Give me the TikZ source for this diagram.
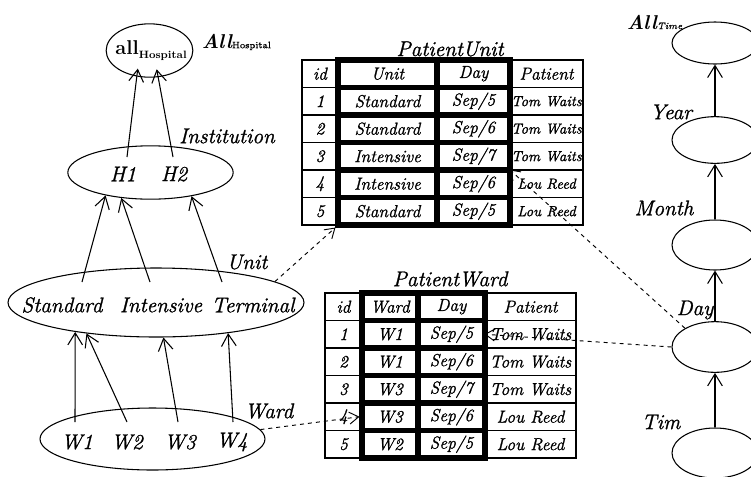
\documentclass[tikz,border=0pt]{standalone}
\usepackage{fontspec}
\setmainfont{Latin Modern Roman}[ItalicFeatures={FakeBold=1.2},UprightFeatures={FakeBold=1.2}]
\usetikzlibrary{arrows.meta,calc,shapes.geometric}

\begin{document}
\begin{tikzpicture}[x=0.75pt,y=-0.75pt,line width=0.8pt,
  level/.style={draw,ellipse,inner sep=0pt},
  member/.style={font=\fontsize{16}{16}\selectfont\itshape},
  dim label/.style={font=\fontsize{16}{16}\selectfont\itshape},
  top label/.style={font=\fontsize{15}{15}\selectfont\bfseries\itshape},
  rollup/.style={-{Straight Barb[length=9pt,width=11pt]}},
  link/.style={dashed,line width=0.7pt,-{Straight Barb[length=7pt,width=9pt]}},
  cell/.style={draw,line width=0.8pt,inner sep=0pt,font=\fontsize{13}{13}\selectfont\itshape,minimum height=20.6pt},
  key cell/.style={cell,line width=3.8pt}]
  \useasboundingbox (0,0) rectangle (751,476);
  \clip (0,0) rectangle (751,476);

  % hospital dimension
  \node[level,minimum width=65pt,minimum height=40pt] (allH) at (149.5,50.5) {};
  \node[font=\fontsize{15}{15}\selectfont\bfseries] (allH text) at (151,51) {all\raisebox{-3pt}{\fontsize{8}{8}\selectfont Hospital}};
  \node[top label,anchor=west] (allH label) at (197,42) {All{\fontsize{7}{7}\selectfont\mdseries\upshape Hospital}};

  \node[level,minimum width=124pt,minimum height=40pt] (inst) at (150.5,172.5) {};
  \node[member] (h1) at (123,174) {H1};
  \node[member] (h2) at (174,174) {H2};
  \node[dim label] (inst label) at (227,136) {Institution};

  \node[level,minimum width=222pt,minimum height=51.75pt] (unit) at (156,302.5) {};
  \node[member] (std) at (62,305) {Standard};
  \node[member] (int) at (161,305) {Intensive};
  \node[member] (ter) at (253,305) {Terminal};
  \node[dim label] (unit label) at (247,262) {Unit};

  \node[level,minimum width=168.75pt,minimum height=46.5pt] (ward) at (152.5,439) {};
  \node[member] (w1) at (77,442) {W1};
  \node[member] (w2) at (127,442) {W2};
  \node[member] (w3) at (180,442) {W3};
  \node[member] (w4) at (232,442) {W4};
  \node[dim label] (ward label) at (269,411) {Ward};

  \draw[rollup,shorten >=-6pt] ($(h1)+(4,-17)$) -- (allH.-116);
  \draw[rollup,shorten >=-6pt] ($(h2)+(-1,-17)$) -- (allH.-72);

  \draw[rollup] ($(std)+(20,-23)$) -- (inst.-153);
  \draw[rollup] ($(int)+(-11,-23)$) -- (inst.-139);
  \draw[rollup] ($(ter)+(-31,-23)$) -- (inst.-30);

  \draw[rollup] ($(w1)+(-2,-20)$) -- (unit.-160);
  \draw[rollup] ($(w2)+(0,-20)$) -- (unit.-156);
  \draw[rollup] ($(w3)+(-2,-20)$) -- (unit.-78);
  \draw[rollup] ($(w4)+(1,-20)$) -- (unit.-23);

  % time dimension
  \node[level,minimum width=64.5pt,minimum height=31.5pt] (allT) at (715,43) {};
  \node[level,minimum width=64.5pt,minimum height=35pt] (year) at (715,140) {};
  \node[level,minimum width=64.5pt,minimum height=37.5pt] (month) at (715,245) {};
  \node[level,minimum width=64.5pt,minimum height=38pt] (day) at (715,347) {};
  \node[level,minimum width=64.5pt,minimum height=37.5pt] (tim) at (715,453) {};
  \node[top label,anchor=west] (allT label) at (622,22) {All{\fontsize{7}{7}\selectfont\mdseries Time}};
  \node[dim label] (year label) at (671,112) {Year};
  \node[dim label] (month label) at (664,208) {Month};
  \node[dim label] (day label) at (695,310) {Day};
  \node[dim label] (tim label) at (661,422) {Tim};

  \draw[rollup] (tim) -- (day);
  \draw[rollup] (day) -- (month);
  \draw[rollup] (month) -- (year);
  \draw[rollup] (year) -- (allT);

  % fact tables
  \node[dim label] (pu title) at (450,49) {PatientUnit};
  \node[cell,minimum width=27pt] (pu-id-0) at (320,73.75) {id};
  \node[key cell,minimum width=74.25pt] (pu-unit-0) at (387.5,73.75) {Unit};
  \node[key cell,minimum width=54.75pt] (pu-day-0) at (473.5,73.75) {Day};
  \node[cell,minimum width=54.75pt] (pu-pat-0) at (546.5,73.75) {Patient};
  \foreach \i/\u/\d/\p in {1/Standard/5/Tom Waits,2/Standard/6/Tom Waits,3/Intensive/7/Tom Waits,4/Intensive/6/Lou Reed,5/Standard/5/Lou Reed}{
    \node[cell,minimum width=27pt] (pu-id-\i) at (320,{73.75+27.5*\i}) {\i};
    \node[key cell,minimum width=74.25pt] (pu-unit-\i) at (387.5,{73.75+27.5*\i}) {\u};
    \node[key cell,minimum width=54.75pt] (pu-day-\i) at (473.5,{73.75+27.5*\i}) {Sep/\d};
    \node[cell,minimum width=54.75pt,font=\fontsize{11}{11}\selectfont\itshape] (pu-pat-\i) at (546.5,{73.75+27.5*\i}) {\p};
  }

  \node[dim label] (pw title) at (450,279) {PatientWard};
  \node[cell,minimum width=27.75pt] (pw-id-0) at (343.5,306.75) {id};
  \node[key cell,minimum width=42pt] (pw-ward-0) at (390,306.75) {Ward};
  \node[key cell,minimum width=50.25pt] (pw-day-0) at (451.5,306.75) {Day};
  \node[cell,minimum width=68.25pt] (pw-pat-0) at (530.5,306.75) {Patient};
  \foreach \i/\w/\d/\p in {1/W1/5/Tom Waits,2/W1/6/Tom Waits,3/W3/7/Tom Waits,4/W3/6/Lou Reed,5/W2/5/Lou Reed}{
    \node[cell,minimum width=27.75pt] (pw-id-\i) at (343.5,{306.75+27.5*\i}) {\i};
    \node[key cell,minimum width=42pt] (pw-ward-\i) at (390,{306.75+27.5*\i}) {\w};
    \node[key cell,minimum width=50.25pt] (pw-day-\i) at (451.5,{306.75+27.5*\i}) {Sep/\d};
    \node[cell,minimum width=68.25pt] (pw-pat-\i) at (530.5,{306.75+27.5*\i}) {\p};
  }

  \draw[link] (unit.10) -- (pu-unit-5.south west);
  \draw[link] (ward.5) -- (pw-ward-4.west);
  \draw[link] (day.west) -- (pw-pat-1.west);
  \draw[link] (day.148) -- (pu-pat-4.north west);
\end{tikzpicture}
\end{document}
